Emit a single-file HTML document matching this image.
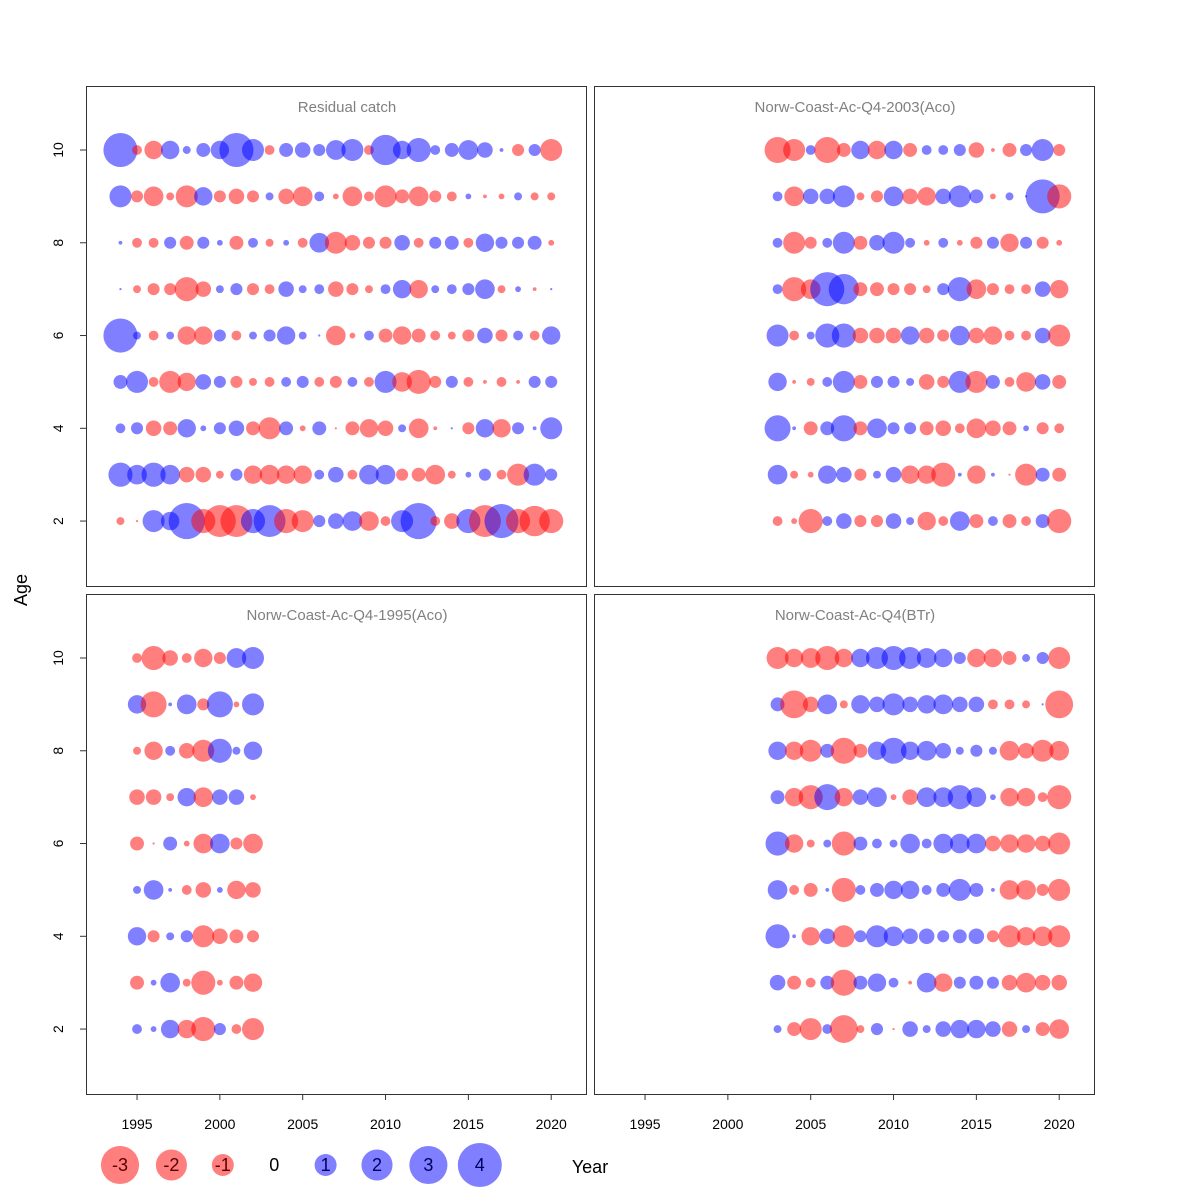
<!DOCTYPE html>
<html><head><meta charset="utf-8"><style>
html,body{margin:0;padding:0;background:#fff;}
svg{display:block;font-family:"Liberation Sans",Arial,sans-serif;}
</style></head><body>
<svg id="chart" width="1200" height="1200" viewBox="0 0 1200 1200"></svg>
<script>
// Ages from top row (10) to bottom row (2)
const ages = [10,9,8,7,6,5,4,3,2];
// Residual catch: years 1994-2020
const yearsCatch = [1994,1995,1996,1997,1998,1999,2000,2001,2002,2003,2004,2005,2006,2007,2008,2009,2010,2011,2012,2013,2014,2015,2016,2017,2018,2019,2020];
const resCatch = [
 [2.4,-0.2,-0.7,0.7,0.13,0.4,0.7,2.4,1,-0.2,0.4,0.5,0.3,0.8,1,-0.2,1.9,0.7,1.2,0.2,0.4,0.8,0.5,0.03,-0.3,0.3,-1],
 [1,-0.3,-0.8,-0.13,-1,0.7,-0.3,-0.5,-0.3,0.13,-0.5,-0.8,0.2,-0.07,-0.8,-0.2,-1,-0.4,-0.8,-0.3,-0.2,0.07,-0.03,-0.07,0.13,-0.13,-0.13],
 [0.03,-0.2,-0.2,0.3,-0.4,0.3,0.07,-0.4,0.2,-0.13,0.07,-0.2,0.8,-1,-0.5,-0.3,-0.3,0.5,-0.2,0.3,0.4,-0.2,0.7,0.3,0.3,0.4,-0.07],
 [0.01,-0.13,-0.3,-0.3,-1.2,-0.5,0.13,0.3,-0.3,-0.2,0.5,0.13,0.2,-0.5,-0.3,-0.13,0.2,0.7,-0.7,0.13,0.2,0.3,0.8,-0.13,0.07,-0.03,0.01],
 [2.4,0.13,-0.2,0.13,-0.7,-0.7,0.3,-0.2,0.13,0.3,0.7,0.13,0.01,-0.8,-0.07,0.2,-0.4,-0.7,-0.4,-0.2,-0.13,-0.3,0.5,-0.3,0.2,-0.2,0.7],
 [0.4,1,-0.2,-1,-0.7,0.5,0.3,-0.3,-0.13,-0.2,0.2,0.3,-0.2,-0.3,0.2,-0.2,1,-0.8,-1.2,-0.3,0.3,-0.2,-0.03,-0.2,-0.03,0.3,0.3],
 [0.2,0.3,-0.5,-0.4,0.7,0.07,0.3,0.5,-0.4,-1,0.4,-0.07,0.4,-0.01,-0.4,-0.7,-0.5,0.13,-0.8,-0.03,0.01,-0.3,0.7,-0.7,0.3,0.03,1],
 [1.2,0.8,1.2,0.8,-0.5,-0.5,-0.13,0.3,-0.7,-0.8,-0.7,-0.7,0.2,0.5,-0.2,0.8,0.8,-0.3,-0.4,-0.8,-0.13,0.07,0.3,-0.2,-1,1,0.3],
 [-0.13,-0.01,1,0.7,2.7,-1.2,-2.1,-2.1,1.2,2.1,-1.2,-1,0.3,0.5,0.8,-0.8,-0.2,1,2.7,-0.2,-0.5,1.2,-2.1,2.4,-1.2,-1.9,-1.2]
];
// Norw-Coast-Ac-Q4-2003(Aco): years 2003-2020
const years0320 = [2003,2004,2005,2006,2007,2008,2009,2010,2011,2012,2013,2014,2015,2016,2017,2018,2019,2020];
const resAco2003 = [
 [-1.4,-1,0.2,-1.4,-0.4,0.7,-0.7,0.7,-0.4,0.2,0.2,0.3,-0.5,-0.03,-0.4,0.3,1,-0.3],
 [0.2,-0.8,0.5,0.5,1,-0.13,-0.3,0.8,-0.5,-0.7,0.5,1,0.4,-0.07,0.13,0.01,2.4,-1.2],
 [0.2,-1,-0.3,0.2,1,-0.4,0.5,1,0.2,-0.07,0.2,-0.07,-0.3,0.3,-0.7,0.3,-0.3,-0.07],
 [0.2,-1.2,-0.8,2.4,1.9,-0.4,-0.4,-0.3,-0.3,-0.13,0.3,1.2,-0.8,-0.3,-0.2,-0.2,0.5,-0.7],
 [1,-0.2,0.13,1.2,1.2,-0.5,-0.5,-0.5,0.7,-0.5,-0.3,0.8,-0.5,-0.7,-0.2,-0.2,0.5,-1],
 [0.7,-0.03,-0.13,0.2,1,-0.4,0.3,0.3,0.13,-0.5,-0.3,1,-1,0.4,-0.2,-0.8,0.5,-0.4],
 [1.4,0.03,-0.4,0.4,1.4,-0.4,0.8,0.3,0.3,-0.4,-0.5,-0.2,-0.8,-0.5,-0.4,0.07,-0.3,-0.2],
 [0.8,-0.13,-0.07,0.7,0.5,-0.3,0.13,0.5,-0.7,-0.7,-1.2,0.03,-0.7,0.03,-0.01,-1,0.4,-0.4],
 [-0.2,-0.07,-1.2,0.2,0.5,-0.3,-0.3,0.5,0.13,-0.7,-0.2,0.8,-0.4,0.2,-0.4,-0.2,0.4,-1.2]
];
// Norw-Coast-Ac-Q4-1995(Aco): years 1995-2002
const years9502 = [1995,1996,1997,1998,1999,2000,2001,2002];
const resAco1995 = [
 [-0.2,-1.2,-0.5,-0.2,-0.7,-0.3,0.8,1],
 [0.7,-1.4,0.03,0.8,-0.3,1.4,-0.07,1],
 [-0.13,-0.7,0.2,-0.5,-1,1.2,0.13,0.7],
 [-0.5,-0.5,-0.13,0.7,-0.8,0.5,0.5,-0.07],
 [-0.4,-0.01,0.4,-0.07,-0.8,0.8,-0.3,-0.8],
 [0.13,0.8,0.03,-0.2,-0.5,0.07,-0.7,-0.5],
 [0.7,-0.3,0.13,0.3,-1,-0.5,-0.4,-0.3],
 [-0.4,0.07,0.8,-0.13,-1.2,-0.07,-0.4,-0.7],
 [0.2,0.07,0.7,-0.7,-1.2,0.3,-0.2,-1]
];
// Norw-Coast-Ac-Q4(BTr): years 2003-2020
const resBTr = [
 [-1,-0.7,-0.8,-1.2,-0.7,0.7,1,1.2,1,0.8,0.7,0.3,-0.7,-0.7,-0.4,0.13,0.3,-1],
 [0.4,-1.6,-0.5,0.8,-0.13,0.7,0.5,1,0.5,0.7,0.8,0.5,0.5,-0.2,-0.2,-0.13,0.01,-1.6],
 [0.7,-0.7,-1,0.4,-1.4,-0.4,0.7,1.4,0.7,0.8,0.5,0.13,0.3,0.13,-0.8,-0.5,-1,-0.8],
 [0.4,-0.7,-1.2,1.4,-0.7,0.5,0.8,-0.07,-0.5,0.8,0.8,1.2,0.8,0.07,-0.7,-0.7,-0.2,-1.2],
 [1.2,-0.7,-0.13,0.13,-1.2,0.4,0.2,0.13,0.8,0.2,0.8,0.8,0.8,-0.5,-0.7,-0.7,-0.5,-1],
 [0.8,-0.2,-0.4,0.03,-1.2,0.2,0.4,0.7,0.7,0.2,0.4,1,0.4,0.03,-0.8,-0.8,-0.3,-1],
 [1.2,0.03,-0.7,0.5,-1,0.3,1,0.8,0.5,0.5,0.3,0.4,0.5,-0.3,-1,-0.7,-0.8,-1],
 [0.5,-0.4,-0.2,0.4,-1.4,0.4,0.7,0.2,-0.03,0.8,-0.7,0.3,0.4,0.3,-0.5,-0.8,-0.5,-0.5],
 [0.13,-0.4,-1,0.2,-1.6,-0.13,0.3,-0.01,0.5,0.13,0.5,0.7,0.7,0.5,-0.5,0.13,-0.4,-0.8]
];
const xTicks = [1995,2000,2005,2010,2015,2020];
const yTicks = [2,4,6,8,10];
const legendVals = [-3,-2,-1,0,1,2,3,4];

const NS = "http://www.w3.org/2000/svg";
const svg = document.getElementById('chart');
function mk(tag, attrs, parent){
  const e = document.createElementNS(NS, tag);
  for (const k in attrs) e.setAttribute(k, attrs[k]);
  (parent||svg).appendChild(e);
  return e;
}
const XMIN = 1991.92, XMAX = 2022.1, YMIN = 0.6, YMAX = 11.38;
const panels = [
  {name:'panel-residual-catch', title:'Residual catch', x0:86, y0:86, years:yearsCatch, data:resCatch, left:true, bottom:false},
  {name:'panel-aco-2003', title:'Norw-Coast-Ac-Q4-2003(Aco)', x0:594, y0:86, years:years0320, data:resAco2003, left:false, bottom:false},
  {name:'panel-aco-1995', title:'Norw-Coast-Ac-Q4-1995(Aco)', x0:86, y0:594, years:years9502, data:resAco1995, left:true, bottom:true},
  {name:'panel-btr', title:'Norw-Coast-Ac-Q4(BTr)', x0:594, y0:594, years:years0320, data:resBTr, left:false, bottom:true}
];
const W = 500, H = 500;
function rad(v){ return 11*Math.sqrt(Math.abs(v)); }
panels.forEach(p => {
  const g = mk('g', {});
  
  
  const sx = y => p.x0 + (y - XMIN)/(XMAX - XMIN)*W;
  const sy = a => p.y0 + H - (a - YMIN)/(YMAX - YMIN)*H;
  const frame = mk('rect', {x:p.x0+0.5, y:p.y0+0.5, width:W, height:H, fill:'none', stroke:'#333', 'stroke-width':1}, g);
  
  
  const t = mk('text', {x:p.x0+W/2+11, y:p.y0+26, 'text-anchor':'middle', 'font-size':15, fill:'#808080'}, g);
  t.textContent = p.title;
  
  
  p.data.forEach((row, i) => {
    row.forEach((v, j) => {
      const c = mk('circle', {cx:sx(p.years[j]), cy:sy(ages[i]), r:rad(v), fill: v<0 ? 'rgba(255,0,0,0.5)' : 'rgba(0,0,255,0.5)'}, g);
      
      
    });
  });
  if (p.left) {
    yTicks.forEach(a => {
      mk('line', {x1:p.x0-6, x2:p.x0, y1:sy(a), y2:sy(a), stroke:'#333'}, g);
      const tl = mk('text', {x:0, y:0, transform:`translate(${p.x0-23},${sy(a)}) rotate(-90)`, 'text-anchor':'middle', 'font-size':14, fill:'#000'}, g);
      tl.textContent = a;
      
      
    });
  }
  if (p.bottom) {
    xTicks.forEach(y => {
      mk('line', {x1:sx(y), x2:sx(y), y1:p.y0+H, y2:p.y0+H+6, stroke:'#333'}, g);
      const tl = mk('text', {x:sx(y), y:p.y0+H+35, 'text-anchor':'middle', 'font-size':14, fill:'#000'}, g);
      tl.textContent = y;
      
      
    });
  }
});
const yt = mk('text', {x:0, y:0, transform:'translate(27,590) rotate(-90)', 'text-anchor':'middle', 'font-size':18});
yt.textContent = 'Age';


const xt = mk('text', {x:590, y:1173, 'text-anchor':'middle', 'font-size':18});
xt.textContent = 'Year';


const lg = mk('g', {});


legendVals.forEach((v, i) => {
  const cx = 120 + i*51.4;
  if (v !== 0) {
    const c = mk('circle', {cx:cx, cy:1165, r:rad(v), fill: v<0 ? 'rgba(255,0,0,0.5)' : 'rgba(0,0,255,0.5)'}, lg);
    
    
  }
  const tx = mk('text', {x:cx, y:1171, 'text-anchor':'middle', 'font-size':18, fill: v<0 ? '#5a0000' : (v>0 ? '#000060' : '#000')}, lg);
  tx.textContent = v;
  
  
});
</script>
</body></html>
